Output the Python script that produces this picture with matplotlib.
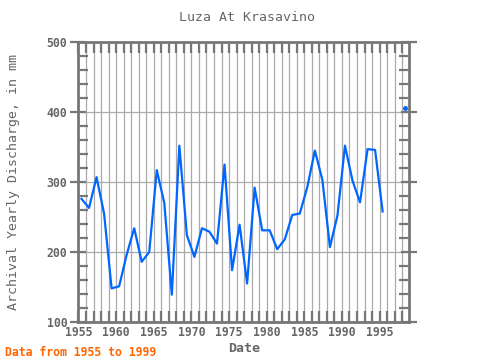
import matplotlib
matplotlib.use("Agg")
import matplotlib.pyplot as plt
import numpy as np
from matplotlib.ticker import MultipleLocator

years_main = [1955, 1956, 1957, 1958, 1959, 1960, 1961, 1962, 1963, 1964,
              1965, 1966, 1967, 1968, 1969, 1970, 1971, 1972, 1973, 1974,
              1975, 1976, 1977, 1978, 1979, 1980, 1981, 1982, 1983, 1984,
              1985, 1986, 1987, 1988, 1989, 1990, 1991, 1992, 1993, 1994,
              1995]
values_main = [276, 263, 307, 255, 148, 151, 196, 234, 186, 200,
               317, 270, 139, 352, 224, 193, 234, 229, 212, 325,
               174, 239, 155, 292, 231, 231, 204, 218, 253, 255,
               293, 345, 303, 207, 252, 352, 302, 271, 347, 346,
               258]
years_extra = [1998]
values_extra = [406]

x_ticks = [1955, 1960, 1965, 1970, 1975, 1980, 1985, 1990, 1995]
y_ticks = [100, 200, 300, 400, 500]

offset = 0.4  # points plotted within the year
gray = "#666666"
blue = "#0066ff"

fig = plt.figure(figsize=(4.8, 3.6), dpi=100)
ax = fig.add_axes([0.1635, 0.1056, 0.6885, 0.7774])

ax.plot(np.array(years_main) + offset, values_main, color=blue, lw=1.6, zorder=3)
ax.plot(np.array(years_extra) + offset, values_extra, color=blue, lw=0,
        marker="o", markersize=2.5, zorder=3)

ax.set_xlim(1955, 1998.9)
ax.set_ylim(100, 500)
ax.set_xticks(x_ticks)
ax.set_yticks(y_ticks)
ax.xaxis.set_minor_locator(MultipleLocator(1))
ax.yaxis.set_minor_locator(MultipleLocator(20))

ax.grid(True, which="major", axis="y", color="#aaaaaa", lw=0.9, zorder=1)
ax.grid(True, which="both", axis="x", color="#aaaaaa", lw=0.9, zorder=1)

for s in ax.spines.values():
    s.set_color("#777777")
    s.set_linewidth(2.0)

ax.tick_params(axis="x", which="both", direction="in", top=True, bottom=True,
               length=8, width=1.6, color="#777777", labelcolor=gray, labelsize=8.3, pad=3)
ax.tick_params(axis="y", which="minor", direction="in", left=True, right=True,
               length=7, width=1.6, color="#777777")
ax.tick_params(axis="y", which="major", direction="inout", left=True, right=True,
               length=12, width=1.6, color="#777777", labelcolor=gray, labelsize=8.3, pad=2)

for lab in ax.get_xticklabels() + ax.get_yticklabels():
    lab.set_fontfamily("DejaVu Sans Mono")
    lab.set_fontweight("bold")

ax.set_xlabel("Date", fontfamily="DejaVu Sans Mono", fontsize=9.5,
              fontweight="bold", color=gray, labelpad=2)
ax.set_ylabel("Archival Yearly Discharge, in mm", fontfamily="DejaVu Sans Mono",
              fontsize=9.5, color=gray, labelpad=19)
fig.text(0.515, 0.952, "Luza At Krasavino", ha="center", va="center",
         fontfamily="DejaVu Sans Mono", fontsize=9.5, color=gray)
fig.text(0.01, 0.022, "Data from 1955 to 1999", ha="left", va="center",
         fontfamily="DejaVu Sans Mono", fontsize=8.3, fontweight="bold",
         color="#ff6600")

fig.savefig("out.png", dpi=100)
